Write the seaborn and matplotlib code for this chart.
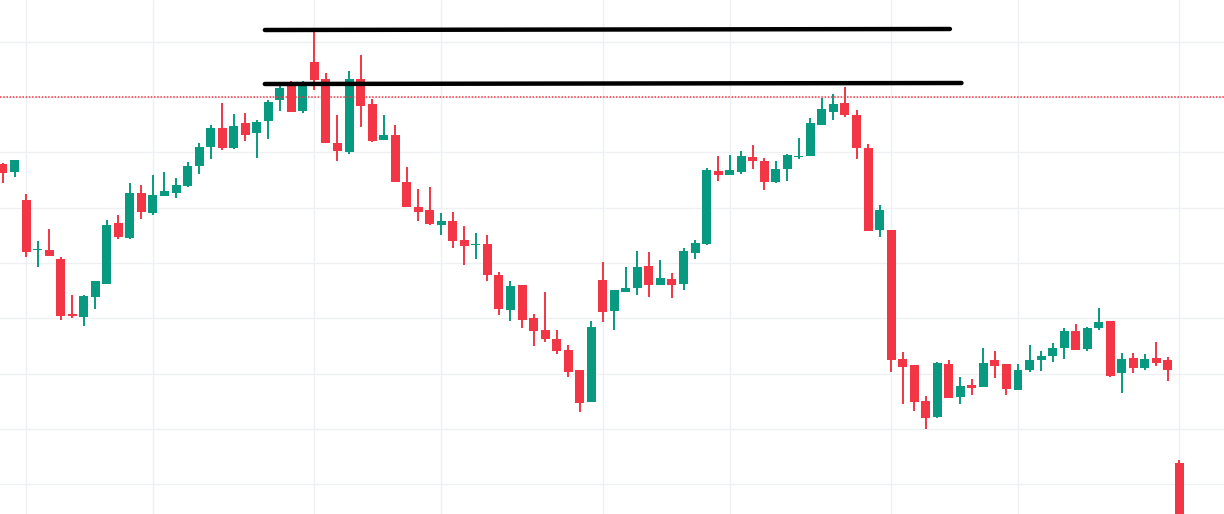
import numpy as np
import pandas as pd
import seaborn as sns
import matplotlib
matplotlib.use("Agg")
import matplotlib.pyplot as plt

# ---- data (arbitrary price units) ----
opens = [350, 342, 314, 264, 264, 255, 200, 197, 217, 230, 291, 276, 321, 301, 318, 321, 328, 348, 367, 386,
         366, 391, 381, 393, 414, 428, 403, 452, 435, 371, 362, 435, 410, 374, 379, 332, 307, 304, 289, 293,
         274, 269, 270, 239, 204, 229, 196, 184, 175, 164, 144, 112, 234, 203, 222, 226, 248, 229, 235, 230,
         261, 270, 343, 339, 342, 357, 353, 332, 345, 357, 358, 389, 402, 411, 399, 366, 284, 284, 155, 149,
         113, 97, 150, 117, 129, 127, 154, 150, 124, 144, 154, 158, 166, 183, 165, 186, 193, 141, 156, 146,
         156, 154, 51]
highs = [351, 354, 320, 273, 285, 257, 219, 219, 233, 294, 299, 331, 329, 339, 342, 336, 352, 371, 389, 411,
         400, 401, 394, 414, 429, 433, 433, 483, 441, 399, 443, 459, 415, 399, 389, 347, 325, 327, 301, 302,
         288, 281, 279, 242, 233, 229, 200, 222, 184, 169, 144, 193, 252, 224, 247, 263, 262, 254, 241, 266,
         274, 346, 358, 359, 363, 369, 356, 353, 360, 376, 396, 416, 420, 427, 404, 370, 309, 284, 162, 149,
         118, 152, 154, 137, 135, 166, 163, 150, 150, 169, 163, 171, 186, 190, 187, 206, 193, 161, 161, 160,
         172, 157, 54]
lows = [331, 337, 257, 247, 258, 194, 196, 188, 205, 230, 275, 275, 295, 299, 318, 316, 327, 340, 355, 364,
        365, 373, 356, 375, 403, 402, 401, 424, 371, 353, 360, 387, 372, 374, 332, 307, 293, 289, 279, 266,
        249, 255, 233, 199, 193, 186, 168, 172, 160, 137, 102, 112, 192, 184, 222, 219, 217, 229, 216, 224,
        255, 269, 333, 339, 340, 345, 324, 331, 333, 355, 358, 389, 394, 397, 355, 283, 277, 142, 110, 103,
        85, 96, 116, 110, 119, 127, 136, 119, 124, 142, 143, 152, 155, 164, 163, 184, 137, 121, 141, 144,
        148, 133, -50]
closes = [341, 354, 262, 265, 258, 198, 198, 218, 233, 289, 277, 321, 302, 319, 323, 329, 348, 367, 386, 366,
          388, 379, 392, 412, 426, 402, 429, 434, 371, 363, 435, 408, 373, 379, 332, 307, 302, 290, 293, 273,
          268, 270, 239, 205, 228, 194, 183, 175, 163, 142, 111, 187, 202, 224, 226, 247, 229, 236, 229, 263,
          271, 344, 339, 344, 358, 353, 332, 345, 359, 358, 391, 405, 410, 399, 366, 283, 304, 154, 147, 112,
          96, 151, 116, 128, 126, 151, 148, 125, 144, 154, 158, 166, 183, 164, 186, 192, 138, 155, 146, 155,
          151, 144, -40]

level_lines = [(22.7, 484, 82.1, 485), (22.7, 430, 83.1, 431)]
last_price = 416.7
grid_x = [2, 13, 27, 38, 52, 63, 77, 88, 102]
grid_y = [29.7, 85, 140.4, 195.7, 251, 306.4, 361.7, 417, 472.3]

UP = "#089981"
DOWN = "#F23645"

df = pd.DataFrame({"open": opens, "high": highs, "low": lows, "close": closes})
df["idx"] = np.arange(len(df))
df["up"] = df["close"] >= df["open"]

sns.set_theme(style="white")
fig = plt.figure(figsize=(12.24, 5.14), dpi=100)
ax = fig.add_axes([0, 0, 1, 1])

colors = np.where(df["up"], UP, DOWN)
# wicks
ax.vlines(df["idx"], df["low"], df["high"], colors=colors, linewidth=1.4, zorder=2)
# bodies
body_bottom = np.minimum(df["open"], df["close"])
body_h = np.abs(df["close"] - df["open"])
body_h = np.maximum(body_h, 1.2)
ax.bar(df["idx"], body_h, bottom=body_bottom, width=0.78, color=colors, linewidth=0, zorder=3)

# level lines
for x0, y0, x1, y1 in level_lines:
    ax.plot([x0, x1], [y0, y1], color="black", linewidth=3.2, solid_capstyle="round", zorder=5)

# last price dotted line
ax.axhline(last_price, color=DOWN, linewidth=1.1, linestyle=(0, (1.0, 1.1)), zorder=6)

ax.set_xlim(-0.26, 105.86)
ax.set_ylim(0, 514)
ax.set_xticks(grid_x)
ax.set_yticks(grid_y)
ax.set_xticklabels([])
ax.set_yticklabels([])
ax.tick_params(length=0)
ax.grid(True, color="#eef0f3", linewidth=1.0, zorder=0)
ax.set_axisbelow(True)
for s in ax.spines.values():
    s.set_visible(False)
ax.set_facecolor("white")

fig.savefig("out.png", dpi=100, facecolor="white")
